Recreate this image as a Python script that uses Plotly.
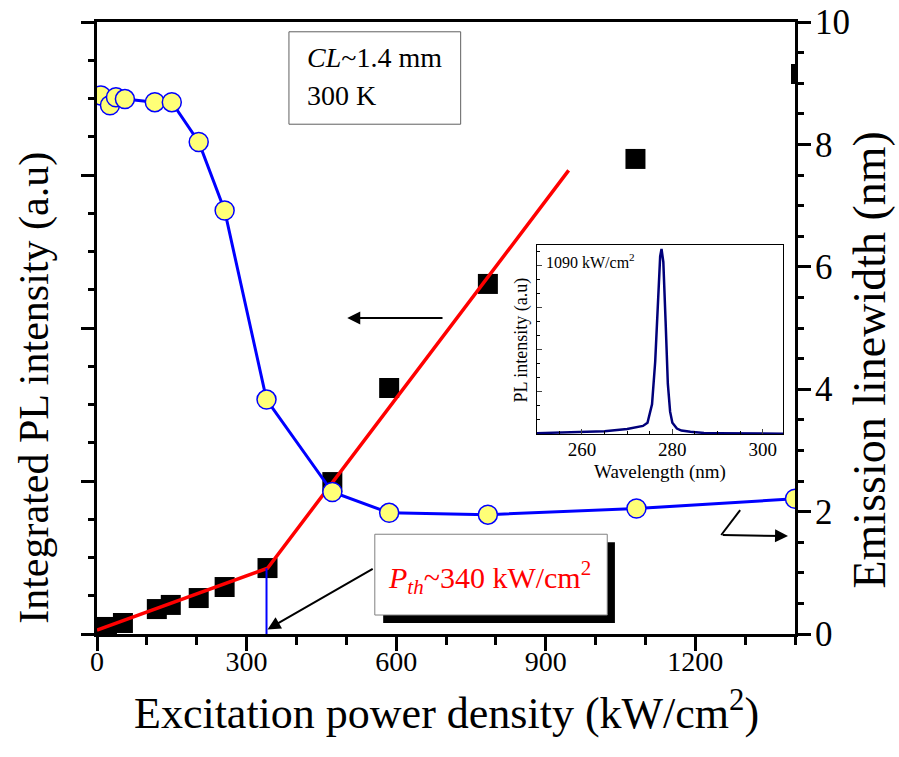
import plotly.graph_objects as go

# ---------------- data ----------------
# Integrated PL intensity (left axis, a.u.)
sq_power = [20, 52, 120, 148, 204, 256, 342, 472, 586, 784, 1080, 1412]
sq_intensity = [0.046, 0.072, 0.163, 0.19, 0.235, 0.307, 0.431, 0.993, 1.608, 2.288, 3.105, 3.66]

# Emission linewidth (right axis, nm)
lw_power = [8, 26, 38, 56, 116, 150, 204, 256, 340, 472, 586, 784, 1082, 1400]
lw_nm = [8.80, 8.64, 8.77, 8.74, 8.69, 8.69, 8.04, 6.92, 3.83, 2.32, 1.98, 1.95, 2.05, 2.21]

# Linear fits (red) below / above threshold
fit_power = [0, 342, 946]
fit_intensity = [0.026, 0.43, 3.03]

# threshold marker line
th_power = [340, 340]
th_intensity = [0, 0.43]

# Inset spectrum at 1090 kW/cm2
wl = [250, 255, 260, 265, 270, 272, 273.5, 274.5, 275.5, 276.2, 276.8, 277.3, 277.6,
      278.0, 278.5, 279.0, 279.5, 280, 281, 282, 284, 287, 290, 300, 304.5]
pl = [0.004, 0.006, 0.009, 0.014, 0.027, 0.036, 0.043, 0.06, 0.16, 0.39, 0.71, 0.96, 1.0,
      0.93, 0.61, 0.27, 0.12, 0.06, 0.029, 0.018, 0.011, 0.005, 0.004, 0.002, 0.001]
pl_au = [v * 4.4 for v in pl]

FONT = "Times New Roman, Liberation Serif, serif"

fig = go.Figure()

fig.add_trace(go.Scatter(x=sq_power, y=sq_intensity, mode="markers",
                         marker=dict(symbol="square", size=20, color="black"),
                         xaxis="x", yaxis="y", showlegend=False))
fig.add_trace(go.Scatter(x=fit_power, y=fit_intensity, mode="lines",
                         line=dict(color="#ff0000", width=3.5),
                         xaxis="x", yaxis="y", showlegend=False))
fig.add_trace(go.Scatter(x=th_power, y=th_intensity, mode="lines",
                         line=dict(color="#0000ff", width=2),
                         xaxis="x", yaxis="y", showlegend=False))
fig.add_trace(go.Scatter(x=lw_power, y=lw_nm, mode="lines+markers",
                         line=dict(color="#0000ff", width=3),
                         marker=dict(symbol="circle", size=19, color="#ffff77",
                                     line=dict(color="#0000ff", width=1.5)),
                         xaxis="x", yaxis="y2", showlegend=False))
fig.add_trace(go.Scatter(x=wl, y=pl_au, mode="lines",
                         line=dict(color="#00007a", width=2.5),
                         xaxis="x3", yaxis="y3", showlegend=False))

axis_common = dict(showgrid=False, zeroline=False, linecolor="black", linewidth=3,
                   tickcolor="black", tickwidth=3, ticks="outside", automargin=False)

fig.update_layout(
    width=899, height=757,
    margin=dict(l=97, r=104, t=22, b=123, autoexpand=False),
    paper_bgcolor="white", plot_bgcolor="white",
    font=dict(family=FONT, color="black"),
    xaxis=dict(range=[0, 1400], dtick=300, tick0=0, ticklen=14, mirror=True,
               tickfont=dict(size=28, family=FONT), ticklabelstandoff=-14,
               minor=dict(dtick=100, tick0=0, ticks="outside", ticklen=8,
                          tickwidth=3, tickcolor="black", showgrid=False),
               domain=[0, 1], **axis_common),
    yaxis=dict(range=[0, 4], dtick=1, ticklen=13, showticklabels=False,
               minor=dict(dtick=0.25, ticks="outside", ticklen=6,
                          tickwidth=3, tickcolor="black", showgrid=False),
               **axis_common),
    yaxis2=dict(range=[0, 10], dtick=2, ticklen=13, side="right", overlaying="y",
                tickfont=dict(size=35, family=FONT), ticklabelstandoff=-3,
                minor=dict(dtick=0.5, ticks="outside", ticklen=6,
                           tickwidth=3, tickcolor="black", showgrid=False),
                **axis_common),
    xaxis3=dict(domain=[0.630, 0.983], anchor="y3", range=[250, 304.5],
                dtick=20, tick0=260, ticks="inside", ticklen=5, tickwidth=1,
                showgrid=False, zeroline=False, mirror=True, automargin=False,
                linecolor="black", linewidth=1, ticklabelstandoff=-2,
                tickfont=dict(size=19, family=FONT),
                minor=dict(dtick=5, ticks="inside", ticklen=3, tickwidth=1,
                           tickcolor="black", showgrid=False)),
    yaxis3=dict(domain=[0.327, 0.636], anchor="x3", range=[0, 4.5],
                dtick=1, ticks="inside", ticklen=5, tickwidth=1, automargin=False,
                showticklabels=False, showgrid=False, zeroline=False, mirror=True,
                linecolor="black", linewidth=1,
                minor=dict(dtick=1/3, ticks="inside", ticklen=3, tickwidth=1,
                           tickcolor="black", showgrid=False)),
)

shapes = [
    # Pth box shadow and box
    dict(type="rect", xref="paper", yref="paper", x0=0.410, x1=0.742, y0=0.018, y1=0.150,
         fillcolor="black", line=dict(width=0)),
    dict(type="rect", xref="paper", yref="paper", x0=0.398, x1=0.731, y0=0.031, y1=0.163,
         fillcolor="white", line=dict(color="#808080", width=1)),
    # CL box
    dict(type="rect", xref="paper", yref="paper", x0=0.275, x1=0.521, y0=0.833, y1=0.984,
         fillcolor="white", line=dict(color="#606060", width=1)),
    # bent line for right arrow
    dict(type="line", xref="x", yref="y", x0=1290, y0=0.81, x1=1252, y1=0.647,
         line=dict(color="black", width=2)),
]
fig.update_layout(shapes=shapes)

C = dict(showarrow=False, xanchor="center", yanchor="middle")
ann = [
    dict(xref="paper", yref="paper", x=-0.089, y=0.402, text="Integrated PL intensity (a.u)",
         textangle=-90, font=dict(size=42, family=FONT), **C),
    dict(xref="paper", yref="paper", x=1.107, y=0.448, text="Emission linewidth (nm)",
         textangle=-90, font=dict(size=46, family=FONT), **C),
    dict(xref="paper", yref="paper", x=0.501, y=-0.125, text="Excitation power density (kW/cm<sup>2</sup>)",
         font=dict(size=44, family=FONT), **C),
    dict(xref="paper", yref="paper", x=0.298, y=0.942, xanchor="left", yanchor="middle",
         text="<i>CL</i>~1.4 mm", showarrow=False, font=dict(size=28, family=FONT)),
    dict(xref="paper", yref="paper", x=0.298, y=0.880, xanchor="left", yanchor="middle",
         text="300 K", showarrow=False, font=dict(size=28, family=FONT)),
    dict(xref="paper", yref="paper", x=0.563, y=0.092,
         text="<i>P</i><sub><i>th</i></sub>~340 kW/cm<sup>2</sup>",
         font=dict(size=30, family=FONT, color="#ff0000"), **C),
    # inset labels
    dict(xref="paper", yref="paper", x=0.807, y=(634 - 472) / 612, text="Wavelength (nm)",
         font=dict(size=19, family=FONT), **C),
    dict(xref="paper", yref="paper", x=0.608, y=0.48, text="PL intensity (a.u)",
         textangle=-90, font=dict(size=18, family=FONT), **C),
    dict(xref="paper", yref="paper", x=0.640, y=(634 - 261) / 612, xanchor="left", yanchor="middle",
         text="1090 kW/cm<sup>2</sup>", showarrow=False, font=dict(size=16, family=FONT)),
    # arrows
    dict(xref="x", yref="y", axref="x", ayref="y", x=502, y=2.065, ax=696, ay=2.065,
         text="", showarrow=True, arrowhead=2, arrowsize=1.3, arrowwidth=2, arrowcolor="black"),
    dict(xref="x", yref="y", axref="x", ayref="y", x=342, y=0.03, ax=556, ay=0.431,
         text="", showarrow=True, arrowhead=2, arrowsize=1.3, arrowwidth=2, arrowcolor="black"),
    dict(xref="x", yref="y", axref="x", ayref="y", x=1386, y=0.64, ax=1252, ay=0.647,
         text="", showarrow=True, arrowhead=2, arrowsize=1.3, arrowwidth=2, arrowcolor="black"),
]
fig.update_layout(annotations=ann)

fig.write_html("out.html")
